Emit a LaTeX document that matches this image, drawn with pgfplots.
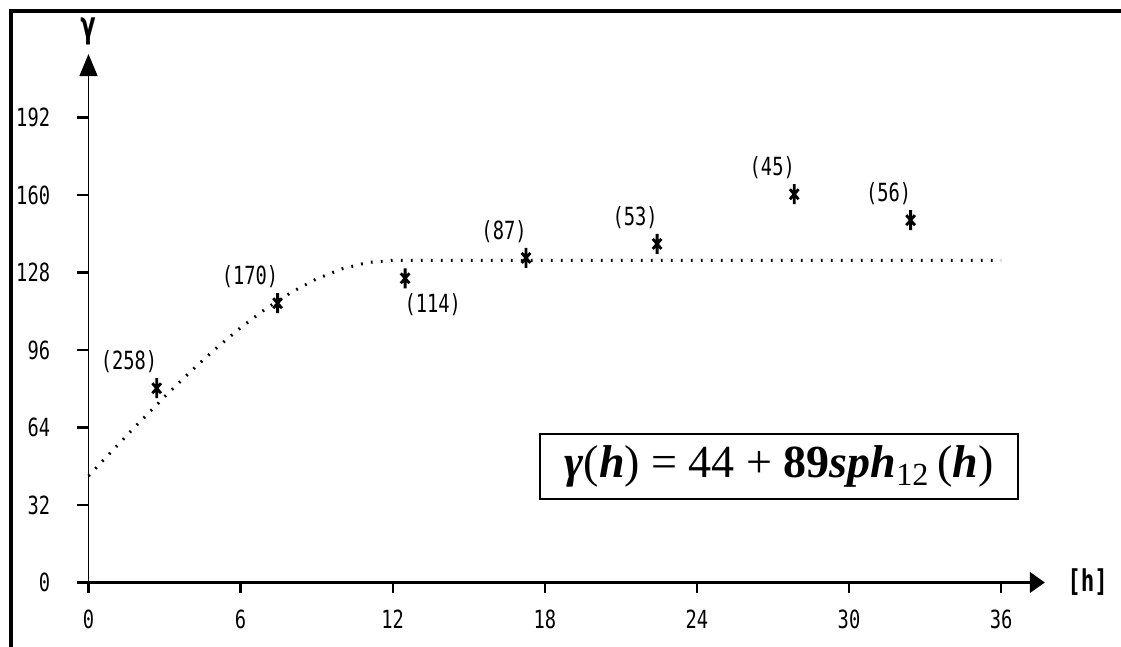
\documentclass[border=0pt]{standalone}
\usepackage{fontspec}
\setmainfont{Liberation Serif}
\newfontfamily\pix[FakeStretch=0.75]{DejaVu Sans Mono}
\usepackage{pgfplots}
\pgfplotsset{compat=1.18}
\usetikzlibrary{arrows.meta}
\begin{document}
\begin{tikzpicture}
\begin{axis}[
  at={(0,0)}, anchor=origin,
  x=12.675pt, y=1.211pt,
  xmin=0, xmax=37.73, ymin=0, ymax=218.2,
  axis lines=left,
  x axis line style={line width=1.75pt, -{Triangle[length=7.5pt,width=10pt]}},
  y axis line style={line width=0.65pt, -{Triangle[length=11pt,width=9pt]}},
  xtick={0,6,...,36}, ytick={0,32,...,192},
  tick align=outside, major tick length=5.5pt,
  major tick style={solid, black, line width=1.2pt},
  /pgf/number format/assume math mode=true,
  ticklabel style={font=\pix\fontsize{12.5}{14}\selectfont},
  yticklabel style={anchor=east, inner sep=0pt},
  xticklabel style={anchor=north, inner sep=0pt},
  yticklabel shift=13.5pt,
  xticklabel shift=8pt,
  xlabel={[h]},
  xlabel style={at={(axis description cs:1,0)}, anchor=west, inner sep=0pt, xshift=11pt, font=\pix\bfseries\fontsize{15}{17}\selectfont},
  ylabel={γ},
  ylabel style={rotate=-90, at={(axis description cs:0,1)}, anchor=south, inner sep=0pt, yshift=4.5pt, font=\pix\bfseries\fontsize{18}{20}\selectfont},
  clip=false,
]
% fitted spherical model (dotted)
\addplot[black, line width=1.5pt, dash pattern=on 0.9pt off 4.1pt] coordinates {
 (0,44) (1,55.10) (2,66.05) (3,76.68) (4,86.85) (5,96.41) (6,105.19)
 (7,113.04) (8,119.81) (9,125.35) (10,129.50) (11,132.10) (12,133) (36,133)
};
% experimental variogram, labels above left
\addplot[only marks, black, mark=asterisk, mark size=5pt,
  mark options={xscale=0.5, line width=1.4pt},
  nodes near coords, point meta=explicit symbolic,
  nodes near coords style={anchor=south east, inner sep=0pt, xshift=1pt, yshift=7pt, font=\pix\fontsize{12.5}{14}\selectfont}]
  table[meta=lab] {
h g lab
2.69 80.2 (258)
7.46 115.3 (170)
17.26 134.0 (87)
22.43 139.8 (53)
27.84 160.3 (45)
32.43 149.6 (56)
};
% point with label below right
\addplot[only marks, black, mark=asterisk, mark size=5pt,
  mark options={xscale=0.5, line width=1.4pt},
  nodes near coords, point meta=explicit symbolic,
  nodes near coords style={anchor=north west, inner sep=0pt, xshift=-1pt, yshift=-7pt, font=\pix\fontsize{12.5}{14}\selectfont}]
  table[meta=lab] {
h g lab
12.49 125.6 (114)
};
\node[draw, line width=0.9pt, minimum width=239pt, minimum height=32.5pt, inner sep=0pt,
  font=\fontsize{23}{25}\selectfont] at (axis cs:27.24,47.9)
  {\textbf{\textit{γ}}(\textbf{\textit{h}}) = 44 + \textbf{89}\textbf{\textit{sph}}\textsubscript{12}\,(\textbf{\textit{h}})};
\end{axis}
\draw[line width=2pt] (-38.75pt,-32.25pt) -- (-38.75pt,285.75pt) -- (516.25pt,285.75pt);
\pgfresetboundingbox
\useasboundingbox (-44.25pt,-32.25pt) rectangle (516.25pt,291.25pt);
\end{tikzpicture}
\end{document}
